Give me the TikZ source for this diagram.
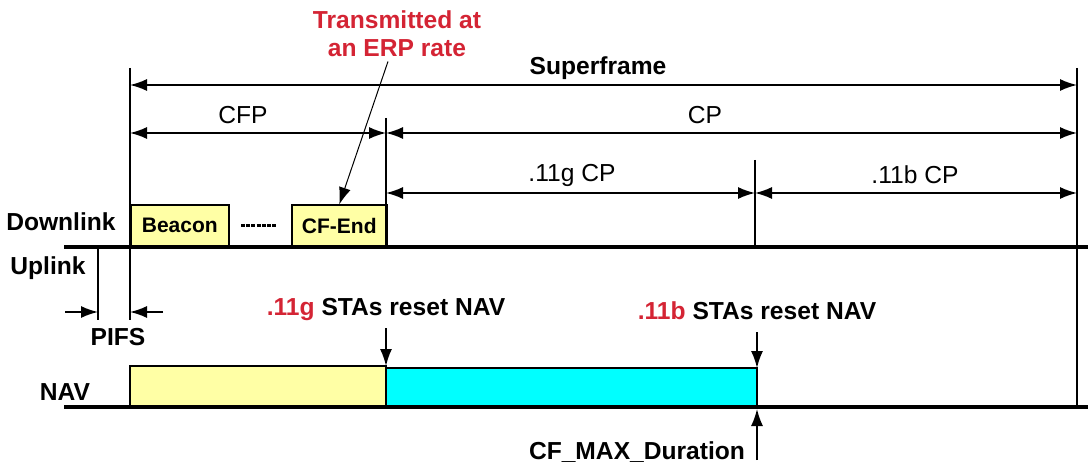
\documentclass[tikz,border=0pt]{standalone}
\usepackage{fontspec}
\setmainfont{Liberation Sans}
\usetikzlibrary{arrows.meta,positioning}
\definecolor{slotyellow}{RGB}{255,255,165}
\definecolor{navcyan}{RGB}{0,255,255}
\definecolor{notered}{RGB}{212,36,52}
\newcommand{\txt}{\fontsize{12.3}{14}\selectfont}

\begin{document}
\begin{tikzpicture}[
    x=0.5pt, y=-0.5pt,
    lbl/.style={font=\txt\bfseries, inner sep=1pt},
    span/.style={font=\txt, inner sep=1pt},
    slot/.style={draw, line width=0.8pt, fill=slotyellow, anchor=south west, minimum height=20.5pt, inner sep=0pt, font=\fontsize{10.5}{12}\selectfont\bfseries},
    base/.style={line width=1.8pt},
    tick/.style={line width=0.8pt},
    dim/.style={{Latex[length=8.5pt,width=6pt]}-{Latex[length=8.5pt,width=6pt]}, line width=0.8pt},
    ptr/.style={-{Latex[length=8.5pt,width=6pt]}, line width=0.8pt}
]
\useasboundingbox (0,0) rectangle (1088,465);

% time marks
\coordinate (sf0) at (130,85);   \coordinate (sf1) at (1077,85);
\coordinate (cfp0) at (130,133); \coordinate (cfp1) at (386,133); \coordinate (cp1) at (1077,133);
\coordinate (g0) at (386,193);   \coordinate (g1) at (755,193);   \coordinate (b1) at (1077,193);

% downlink frames
\node[slot, minimum width=49pt] (beacon) at (130,247) {Beacon};
\node[slot, minimum width=47.5pt] (cfend) at (291,247) {CF-End};
\draw[line width=1.5pt, dash pattern=on 2pt off 0.6pt] (241,226) -- (276,226);

% NAV
\draw[line width=0.8pt, fill=slotyellow] (130,366) rectangle (386,407);
\draw[line width=0.8pt, fill=navcyan] (386,368) rectangle (757,407);

% vertical marks
\draw[tick] (130,68) -- (130,320);
\draw[tick] (98,247) -- (98,320);
\draw[tick] (386,118) -- (386,247);
\draw[tick] (755,160) -- (755,247);
\draw[tick] (1077,68) -- (1077,407);

% base lines
\draw[base] (64,247) -- (1088,247);
\draw[base] (64,407) -- (1088,407);

% spans
\draw[dim] (sf0) -- (sf1);
\draw[dim] (cfp0) -- (cfp1);
\draw[dim] (cfp1) -- (cp1);
\draw[dim] (g0) -- (g1);
\draw[dim] (g1) -- (b1);
\node[lbl] (sf) at (598,68) {Superframe};
\node[span] (cfp) at (243,115) {CFP};
\node[span] (cp) at (705,115) {CP};
\node[span] (gcp) at (572,175) {.11g CP};
\node[span] (bcp) at (915,175) {.11b CP};

% row names
\node[lbl, anchor=east] (down) at (118,222) {Downlink};
\node[lbl] (up) at (48,268) {Uplink};
\node[lbl] (nav) at (65,392) {NAV};

% PIFS
\coordinate (pl0) at (65,312);  \coordinate (pl1) at (98,312);
\coordinate (pr0) at (163,312); \coordinate (pr1) at (130,312);
\draw[ptr] (pl0) -- (pl1);
\draw[ptr] (pr0) -- (pr1);
\node[lbl] (pifs) at (118,337) {PIFS};

% ERP note
\node[lbl, text=notered, align=center] (erp) at (397,34) {Transmitted at\\an ERP rate};
\draw[ptr, line width=0.5pt] ([xshift=-4.5pt,yshift=-1pt]erp.south) -- (cfend.north);

% NAV resets
\node[lbl] (greset) at (386,310) {\textcolor{notered}{.11g} STAs reset NAV};
\node[lbl] (breset) at (757,311) {\textcolor{notered}{.11b} STAs reset NAV};
\coordinate (gfrom) at (386,328); \coordinate (gtop) at (386,366);
\coordinate (bfrom) at (757,332); \coordinate (btop) at (757,368);
\draw[ptr] (gfrom) -- (gtop);
\draw[ptr] (bfrom) -- (btop);

\node[lbl] (cfmax) at (637,452) {CF\_MAX\_Duration};
\coordinate (cfmaxlow) at (757,460);
\coordinate (cfmaxtop) at (757,409);
\draw[ptr] (cfmaxlow) -- (cfmaxtop);
\end{tikzpicture}
\end{document}
